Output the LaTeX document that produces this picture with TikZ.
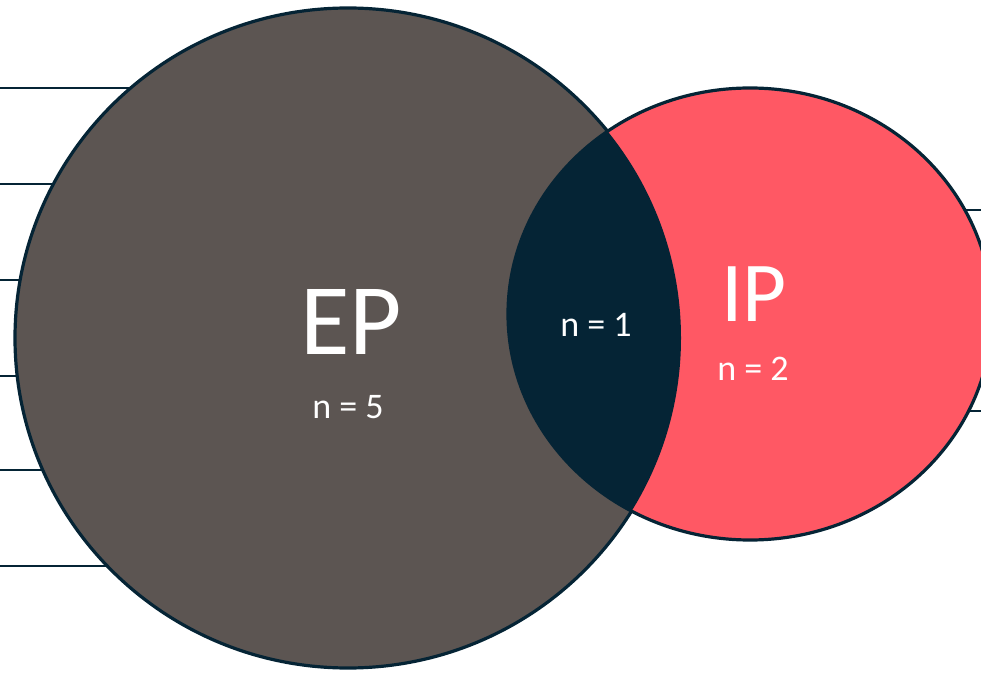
\documentclass[tikz,border=0pt]{standalone}
\usepackage{fontspec}
\setmainfont{Carlito}
\usepackage{xcolor}
\definecolor{epgray}{RGB}{92,85,82}
\definecolor{ipred}{RGB}{255,88,100}
\definecolor{navy}{RGB}{5,36,53}

\tikzset{
  rule/.style={navy, line width=2.2pt},
  rim/.style={navy, line width=2.4pt},
  biglabel/.style={text=white, inner sep=0pt},
  countlabel/.style={text=white, inner sep=0pt, font=\fontsize{27}{31}\selectfont}
}

\begin{document}
\begin{tikzpicture}[x=0.75pt,y=0.75pt]

% Canvas
\useasboundingbox (0,0) rectangle (981,-673);

% Lines behind the circles
\foreach \y in {88,184,280,376,470,566}{
\draw[rule] (0,-\y) -- (220,-\y);
}
\foreach \y in {210,411}{
\draw[rule] (880,-\y) -- (981,-\y);
}

% EP circle
\fill[epgray] (348,-338) ellipse [x radius=333, y radius=330];
\draw[rim] (348,-338) ellipse [x radius=333, y radius=330];

% IP circle
\fill[ipred] (750,-314) ellipse [x radius=242, y radius=226];
\draw[rim] (750,-314) ellipse [x radius=242, y radius=226];

% Overlap
\begin{scope}
\clip (750,-314) ellipse [x radius=242, y radius=226];
\fill[navy] (348,-338) ellipse [x radius=333, y radius=330];
\end{scope}

% Labels
\node[biglabel, font=\fontsize{76}{80}\selectfont] (ep) at (351,-322) {EP};
\node[countlabel] (epn) at (348,-407) {n = 5};
\node[biglabel, font=\fontsize{64}{70}\selectfont] (ip) at (754,-294) {IP};
\node[countlabel] (ipn) at (753,-369) {n = 2};
\node[countlabel] (both) at (596,-325) {n = 1};

\end{tikzpicture}
\end{document}
